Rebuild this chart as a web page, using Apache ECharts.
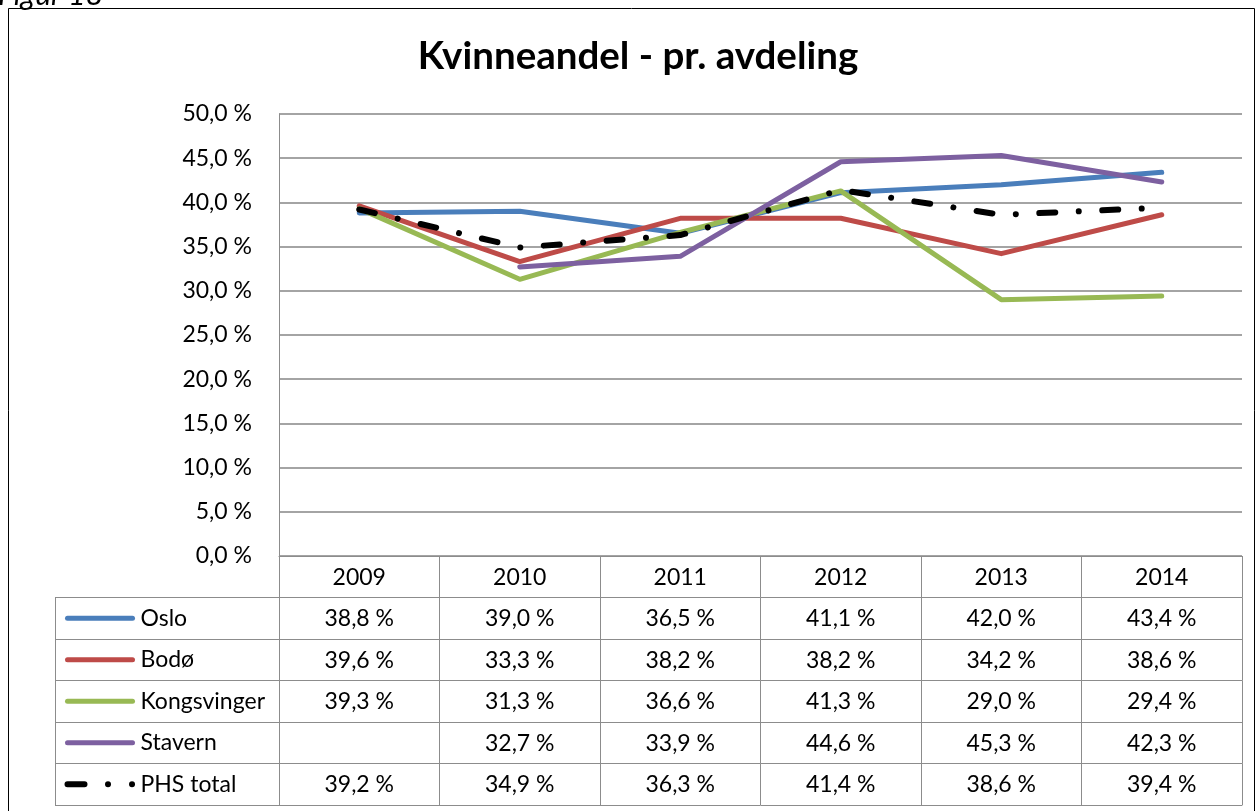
<!DOCTYPE html>
<html>
<head>
<meta charset="utf-8">
<script src="https://cdn.jsdelivr.net/npm/echarts@6/dist/echarts.min.js"></script>
<style>
html,body{margin:0;padding:0;background:#fff;}
#chart{width:1260px;height:811px;}
</style>
</head>
<body>
<div id="chart"></div>
<script>
// ---- data ----
var years = ['2009', '2010', '2011', '2012', '2013', '2014'];
var seriesNames = ['Oslo', 'Bodø', 'Kongsvinger', 'Stavern', 'PHS total'];
var oslo        = [38.8, 39.0, 36.5, 41.1, 42.0, 43.4];
var bodo        = [39.6, 33.3, 38.2, 38.2, 34.2, 38.6];
var kongsvinger = [39.3, 31.3, 36.6, 41.3, 29.0, 29.4];
var stavern     = [null, 32.7, 33.9, 44.6, 45.3, 42.3];
var phsTotal    = [39.2, 34.9, 36.3, 41.4, 38.6, 39.4];
var yTicks = { min: 0, max: 50, interval: 5 };

var allValues = [oslo, bodo, kongsvinger, stavern, phsTotal];
var colors = ['#4A7EBB', '#BE4B48', '#98B954', '#7D60A0', '#000000'];

var FONT = 'Lato';
var FS = 23;
var GRID_COL = '#8c8c8c';
var ROW_H = 41.5;

function fmt(v) {
  if (v === null || v === undefined) return '';
  return v.toFixed(1).replace('.', ',') + ' %';
}

var chart = echarts.init(document.getElementById('chart'), null, { renderer: 'canvas' });

// main x axes: header row (years) + one row per series + bottom border
var xAxes = [];
for (var k = 0; k <= 5; k++) {
  (function (k) {
    xAxes.push({
      type: 'category',
      gridIndex: 0,
      position: 'bottom',
      offset: ROW_H * k,
      data: years,
      boundaryGap: true,
      axisLine: { show: true, lineStyle: { color: GRID_COL, width: 1 } },
      axisTick: { show: true, length: ROW_H, interval: 0, lineStyle: { color: GRID_COL, width: 1 } },
      axisLabel: {
        show: true,
        interval: 0,
        margin: 10,
        fontFamily: FONT,
        fontSize: FS,
        lineHeight: FS,
        color: '#000',
        formatter: function (val, idx) {
          if (k === 0) return val;
          return fmt(allValues[k - 1][idx]);
        }
      },
      splitLine: { show: false }
    });
  })(k);
}
xAxes.push({
  type: 'category',
  gridIndex: 0,
  position: 'bottom',
  offset: ROW_H * 6,
  data: years,
  axisLine: { show: true, lineStyle: { color: GRID_COL, width: 1 } },
  axisTick: { show: false },
  axisLabel: { show: false }
});
// legend column grid
xAxes.push({ type: 'value', gridIndex: 1, show: false, min: 0, max: 1 });

var series = seriesNames.map(function (name, i) {
  var ls = { color: colors[i], width: 5, cap: 'round', join: 'round' };
  if (i === 4) {
    ls.type = [16, 23.5, 0.01, 23.5];
    ls.width = 6;
  }
  return {
    name: name,
    type: 'line',
    xAxisIndex: 0,
    yAxisIndex: 0,
    data: allValues[i],
    symbol: 'none',
    connectNulls: false,
    itemStyle: { color: colors[i] },
    lineStyle: ls,
    emphasis: { disabled: true },
    z: 2 + i
  };
});

var LEG_H = 23;
var option = {
  animation: false,
  backgroundColor: '#fff',
  grid: [
    { left: 279, top: 114, width: 963, height: 442, containLabel: false },
    { left: 55, top: 556 + ROW_H, width: 224, height: ROW_H * 5, containLabel: false }
  ],
  legend: {
    orient: 'vertical',
    left: 64.5,
    top: 556 + ROW_H + (ROW_H - LEG_H) / 2,
    height: 300,
    itemWidth: 65,
    itemHeight: LEG_H,
    itemGap: ROW_H - LEG_H,
    padding: 0,
    selectedMode: false,
    textStyle: { fontFamily: FONT, fontSize: FS, lineHeight: LEG_H, color: '#000', padding: [0, 0, 0, 3] },
    itemStyle: { color: 'rgba(0,0,0,0)', borderWidth: 0, opacity: 0 },
    lineStyle: { width: 5, cap: 'round' },
    data: seriesNames.map(function (n, i) {
      var d = { name: n };
      if (i === 4) d.lineStyle = { type: [17, 23.5, 0.01, 24, 0.01, 100], width: 6, cap: 'round' };
      return d;
    })
  },
  xAxis: xAxes,
  yAxis: [
    {
      type: 'value',
      gridIndex: 0,
      min: yTicks.min,
      max: yTicks.max,
      interval: yTicks.interval,
      axisLine: { show: true, lineStyle: { color: GRID_COL, width: 1 } },
      axisTick: { show: false },
      axisLabel: {
        margin: 27,
        fontFamily: FONT,
        fontSize: FS,
        color: '#000',
        formatter: function (v) { return fmt(v); }
      },
      splitLine: { show: true, lineStyle: { color: '#868686', width: 1.5 } }
    },
    {
      type: 'category',
      gridIndex: 1,
      data: seriesNames,
      inverse: true,
      boundaryGap: true,
      axisLine: { show: true, lineStyle: { color: GRID_COL, width: 1 } },
      axisTick: { show: false },
      axisLabel: { show: false },
      splitLine: { show: true, interval: 0, lineStyle: { color: GRID_COL, width: 1 } }
    }
  ],
  series: series,
  graphic: [
    {
      type: 'rect',
      silent: true,
      shape: { x: 8.5, y: 8.5, width: 1246, height: 900 },
      style: { fill: null, stroke: '#000', lineWidth: 1 }
    },
    {
      type: 'text',
      silent: true,
      x: -2,
      y: 10,
      style: { text: 'Figur 18', font: 'italic 30px ' + FONT, fill: '#000', verticalAlign: 'bottom', align: 'left' }
    },
    {
      type: 'text',
      silent: true,
      x: 638,
      y: 57,
      style: { text: 'Kvinneandel - pr. avdeling', font: 'bold 38.5px ' + FONT, fill: '#000', align: 'center', verticalAlign: 'middle' }
    }
  ]
};

chart.setOption(option);
</script>
</body>
</html>
